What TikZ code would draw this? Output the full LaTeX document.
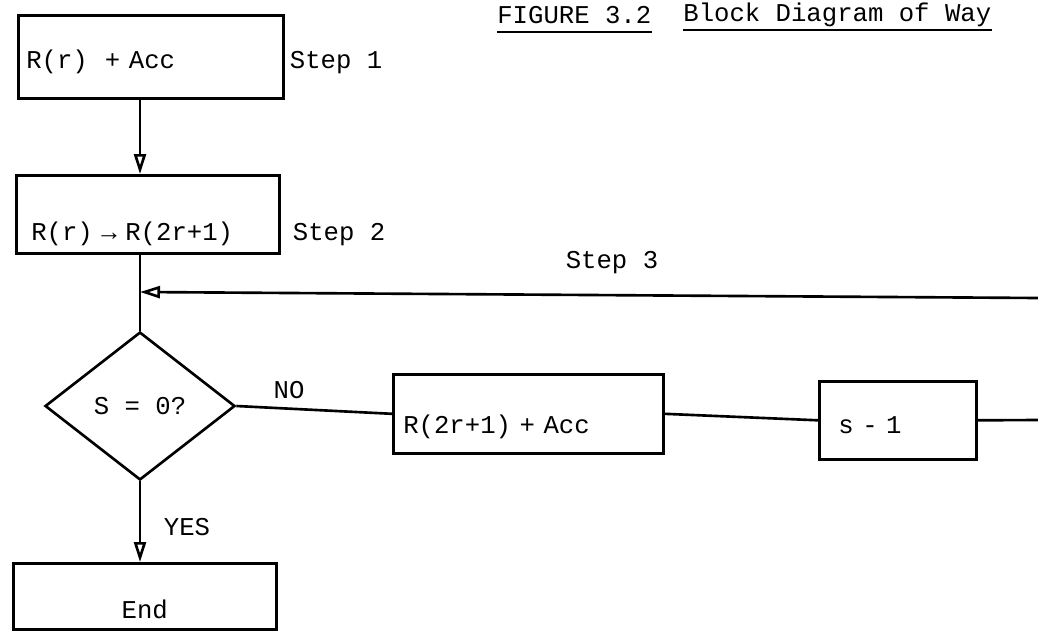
\documentclass[tikz,border=0pt]{standalone}
\usepackage{fontspec}
\setmonofont{Liberation Mono}
\usetikzlibrary{arrows.meta, positioning, shapes.geometric}

\begin{document}
\begin{tikzpicture}[
  x=0.02cm, y=-0.02cm,
  font=\ttfamily\fontsize{14.6}{17}\selectfont,
  >={Triangle[open, length=4mm, width=2.4mm]},
  blk/.style={draw, line width=1.5pt, inner ysep=0pt, align=left, anchor=north west},
  cond/.style={draw, diamond, line width=1.5pt, inner sep=0pt,
               minimum width=3.8cm, minimum height=2.96cm},
  lbl/.style={inner sep=0pt},
  ln/.style={line width=1.5pt},
  ar/.style={->, line width=1.5pt},
]
\useasboundingbox (0,0) rectangle (1038,639);
\node[blk, inner xsep=0.16cm, text width=4.98cm, text height=1.07cm, text depth=0.59cm] (b1) at (17,14) {R(r)\ \ + Acc};
\node[blk, inner xsep=0.3cm, text width=4.66cm, text height=1.31cm, text depth=0.25cm] (b2) at (15,174) {R(r) → R(2r+1)};
\node[cond] (cd) at (140,406) {S = 0?};
\node[blk, inner xsep=0.2cm, text width=5cm, text height=1.19cm, text depth=0.39cm] (b3) at (392,373) {R(2r+1) + Acc};
\node[blk, inner xsep=0.38cm, text width=2.38cm, text height=1.05cm, text depth=0.51cm] (b4) at (818,380) {s - 1};
\node[blk, align=center, inner xsep=0.2cm, text width=4.86cm, text height=1.11cm, text depth=0.21cm] (en) at (12,562) {End};
\node[lbl, anchor=base west] (s1) at ([xshift=0.1cm]b1.base east) {Step 1};
\node[lbl, anchor=base west] (s2) at ([xshift=0.24cm]b2.base east) {Step 2};
\node[lbl] (s3) at (612,263) {Step 3};
\node[lbl] (no) at (289,390) {NO};
\node[lbl] (yes) at (187,527) {YES};
\node[lbl, anchor=west] (fig) at (497,15) {FIGURE 3.2};
\node[lbl, anchor=west] (ttl) at (683,15) {Block Diagram of Way};
\draw[line width=1pt] ([yshift=-0.17cm]fig.base west) -- ([yshift=-0.17cm]fig.base east);
\draw[line width=1pt] ([yshift=-0.17cm]ttl.base west) -- ([yshift=-0.17cm]ttl.base east);
\coordinate (j) at (140,292);
\coordinate (e3) at (1038,298);
\coordinate (e4) at (1038,420);
\draw[ar] (b1.south -| cd.north) -- (b2.north -| cd.north);
\draw[ln] (b2.south -| cd.north) -- (cd.north);
\draw[ar] (e3) -- (j);
\draw[ln] (cd.east) -- (b3.west);
\draw[ln] (b3.east) -- (b4.west);
\draw[ln] (b4.east) -- (e4);
\draw[ar] (cd.south) -- (cd.south |- en.north);
\end{tikzpicture}
\end{document}
